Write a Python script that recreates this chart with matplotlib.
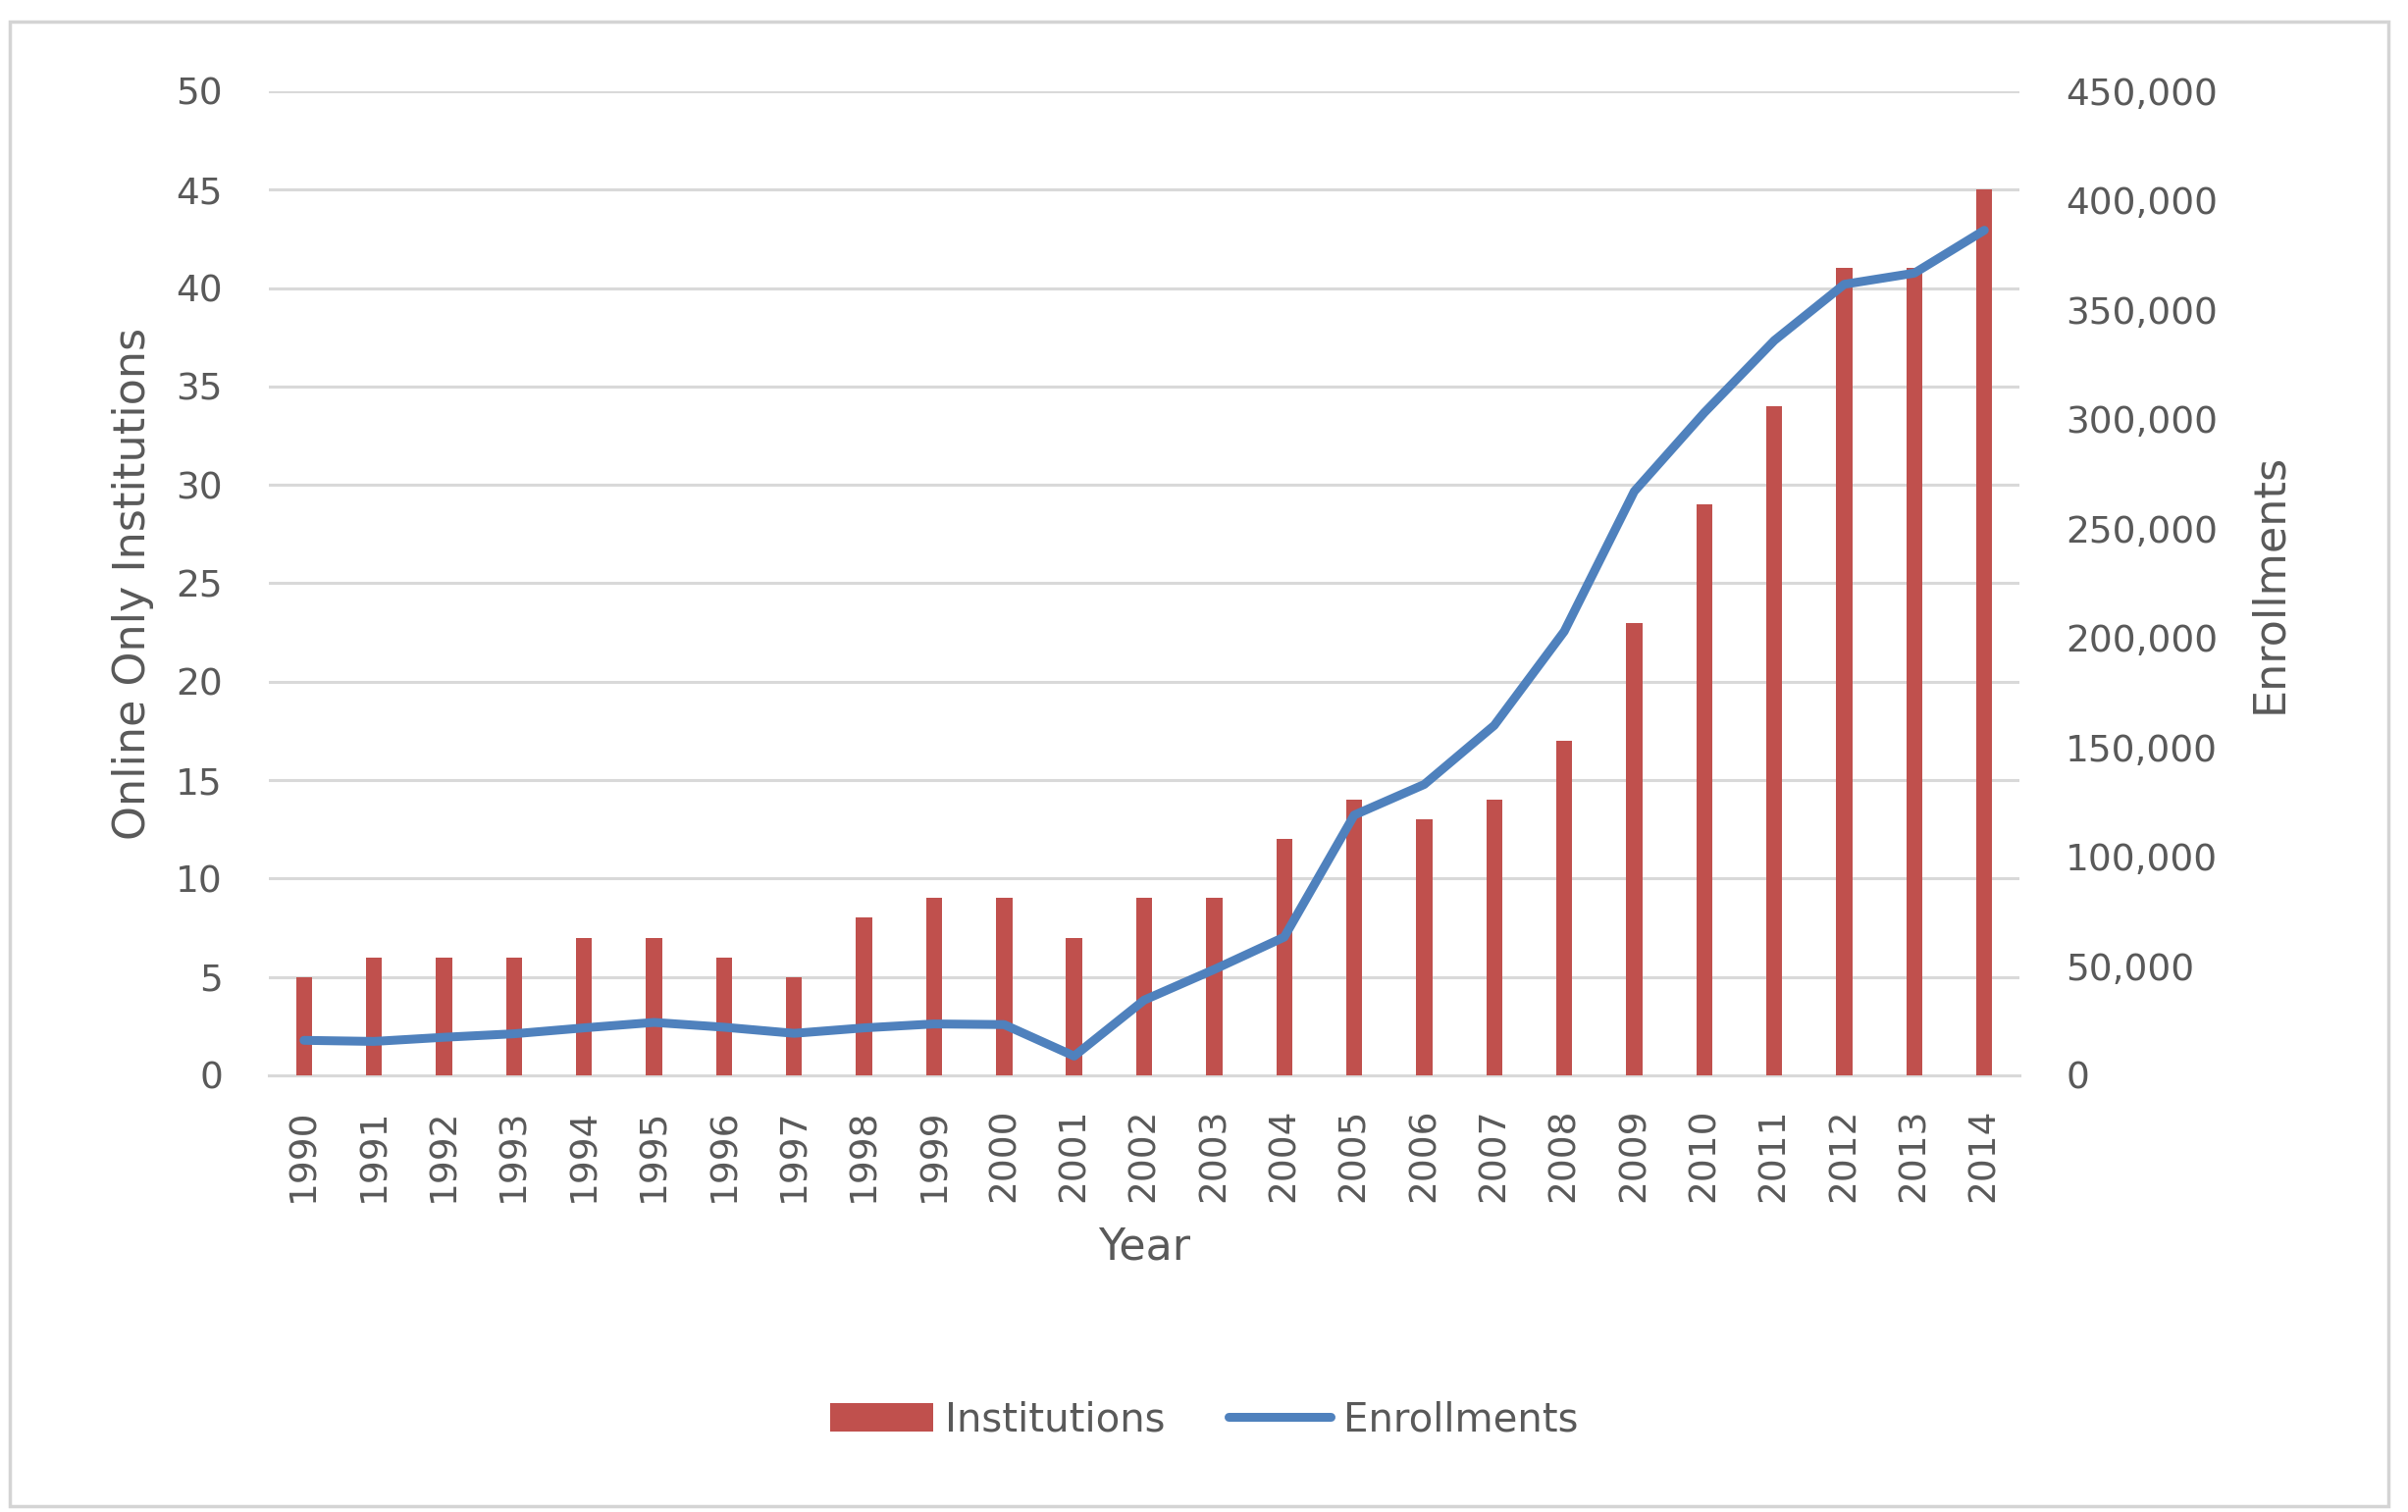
import matplotlib
matplotlib.use("Agg")
import matplotlib.pyplot as plt
from matplotlib.patches import Rectangle
from matplotlib.ticker import FuncFormatter
import numpy as np

years = [str(y) for y in range(1990, 2015)]
institutions = [5, 6, 6, 6, 7, 7, 6, 5, 8, 9, 9, 7, 9, 9, 12, 14, 13, 14, 17, 23, 29, 34, 41, 41, 45]
enrollments = [16000, 15500, 17400, 19000, 21700, 24200, 22000, 19200, 21700, 23500, 23200, 8800,
               34400, 48400, 63200, 119000, 133000, 160000, 203000, 267000, 303000, 336000,
               361700, 366800, 386400]

bar_color = "#C0504D"
line_color = "#4F81BD"
text_color = "#595959"
grid_color = "#D9D9D9"

fig = plt.figure(figsize=(24.54, 15.41), dpi=100)
ax = fig.add_axes([0.1117, 0.2888, 0.7269, 0.6509])
ax2 = ax.twinx()

x = np.arange(len(years))
ax.bar(x, institutions, width=0.23, color=bar_color, zorder=3, label="Institutions")
ax2.plot(x, enrollments, color=line_color, lw=6.5, solid_capstyle="round",
         solid_joinstyle="round", label="Enrollments")

ax.set_xlim(-0.5, len(years) - 0.5)
ax.set_ylim(0, 50)
ax.set_yticks(range(0, 51, 5))
ax2.set_ylim(0, 450000)
ax2.set_yticks(range(0, 450001, 50000))
ax2.yaxis.set_major_formatter(FuncFormatter(lambda v, p: f"{int(v):,}"))

ax.set_xticks(x)
ax.set_xticklabels(years, rotation=90)

ax.grid(axis="y", color=grid_color, lw=2.2, zorder=0)
ax.set_axisbelow(True)
for a in (ax, ax2):
    for s in a.spines.values():
        s.set_visible(False)
ax.spines["bottom"].set_visible(True)
ax.spines["bottom"].set_color(grid_color)
ax.spines["bottom"].set_linewidth(2.2)

ax.tick_params(axis="y", length=0, pad=34, labelsize=27, labelcolor=text_color)
ax.tick_params(axis="x", length=0, pad=24, labelsize=27, labelcolor=text_color)
ax2.tick_params(axis="y", length=0, pad=34, labelsize=27, labelcolor=text_color)

ax.set_xlabel("Year", fontsize=32, color=text_color, labelpad=18)
ax.set_ylabel("Online Only Institutions", fontsize=32, color=text_color, labelpad=16)
ax2.set_ylabel("Enrollments", fontsize=32, color=text_color, labelpad=22)

h1, l1 = ax.get_legend_handles_labels()
h2, l2 = ax2.get_legend_handles_labels()
fig.legend(h1 + h2, l1 + l2, loc="center", bbox_to_anchor=(0.5, 0.0605), ncol=2,
           frameon=False, fontsize=29, labelcolor=text_color, handlelength=2.6,
           handleheight=0.75, handletextpad=0.3, columnspacing=1.6)

fig.patches.append(Rectangle((0.004, 0.004), 0.988, 0.982, transform=fig.transFigure,
                             fill=False, edgecolor="#D4D4D4", lw=2.5))

fig.savefig("out.png", dpi=100, facecolor="white")
